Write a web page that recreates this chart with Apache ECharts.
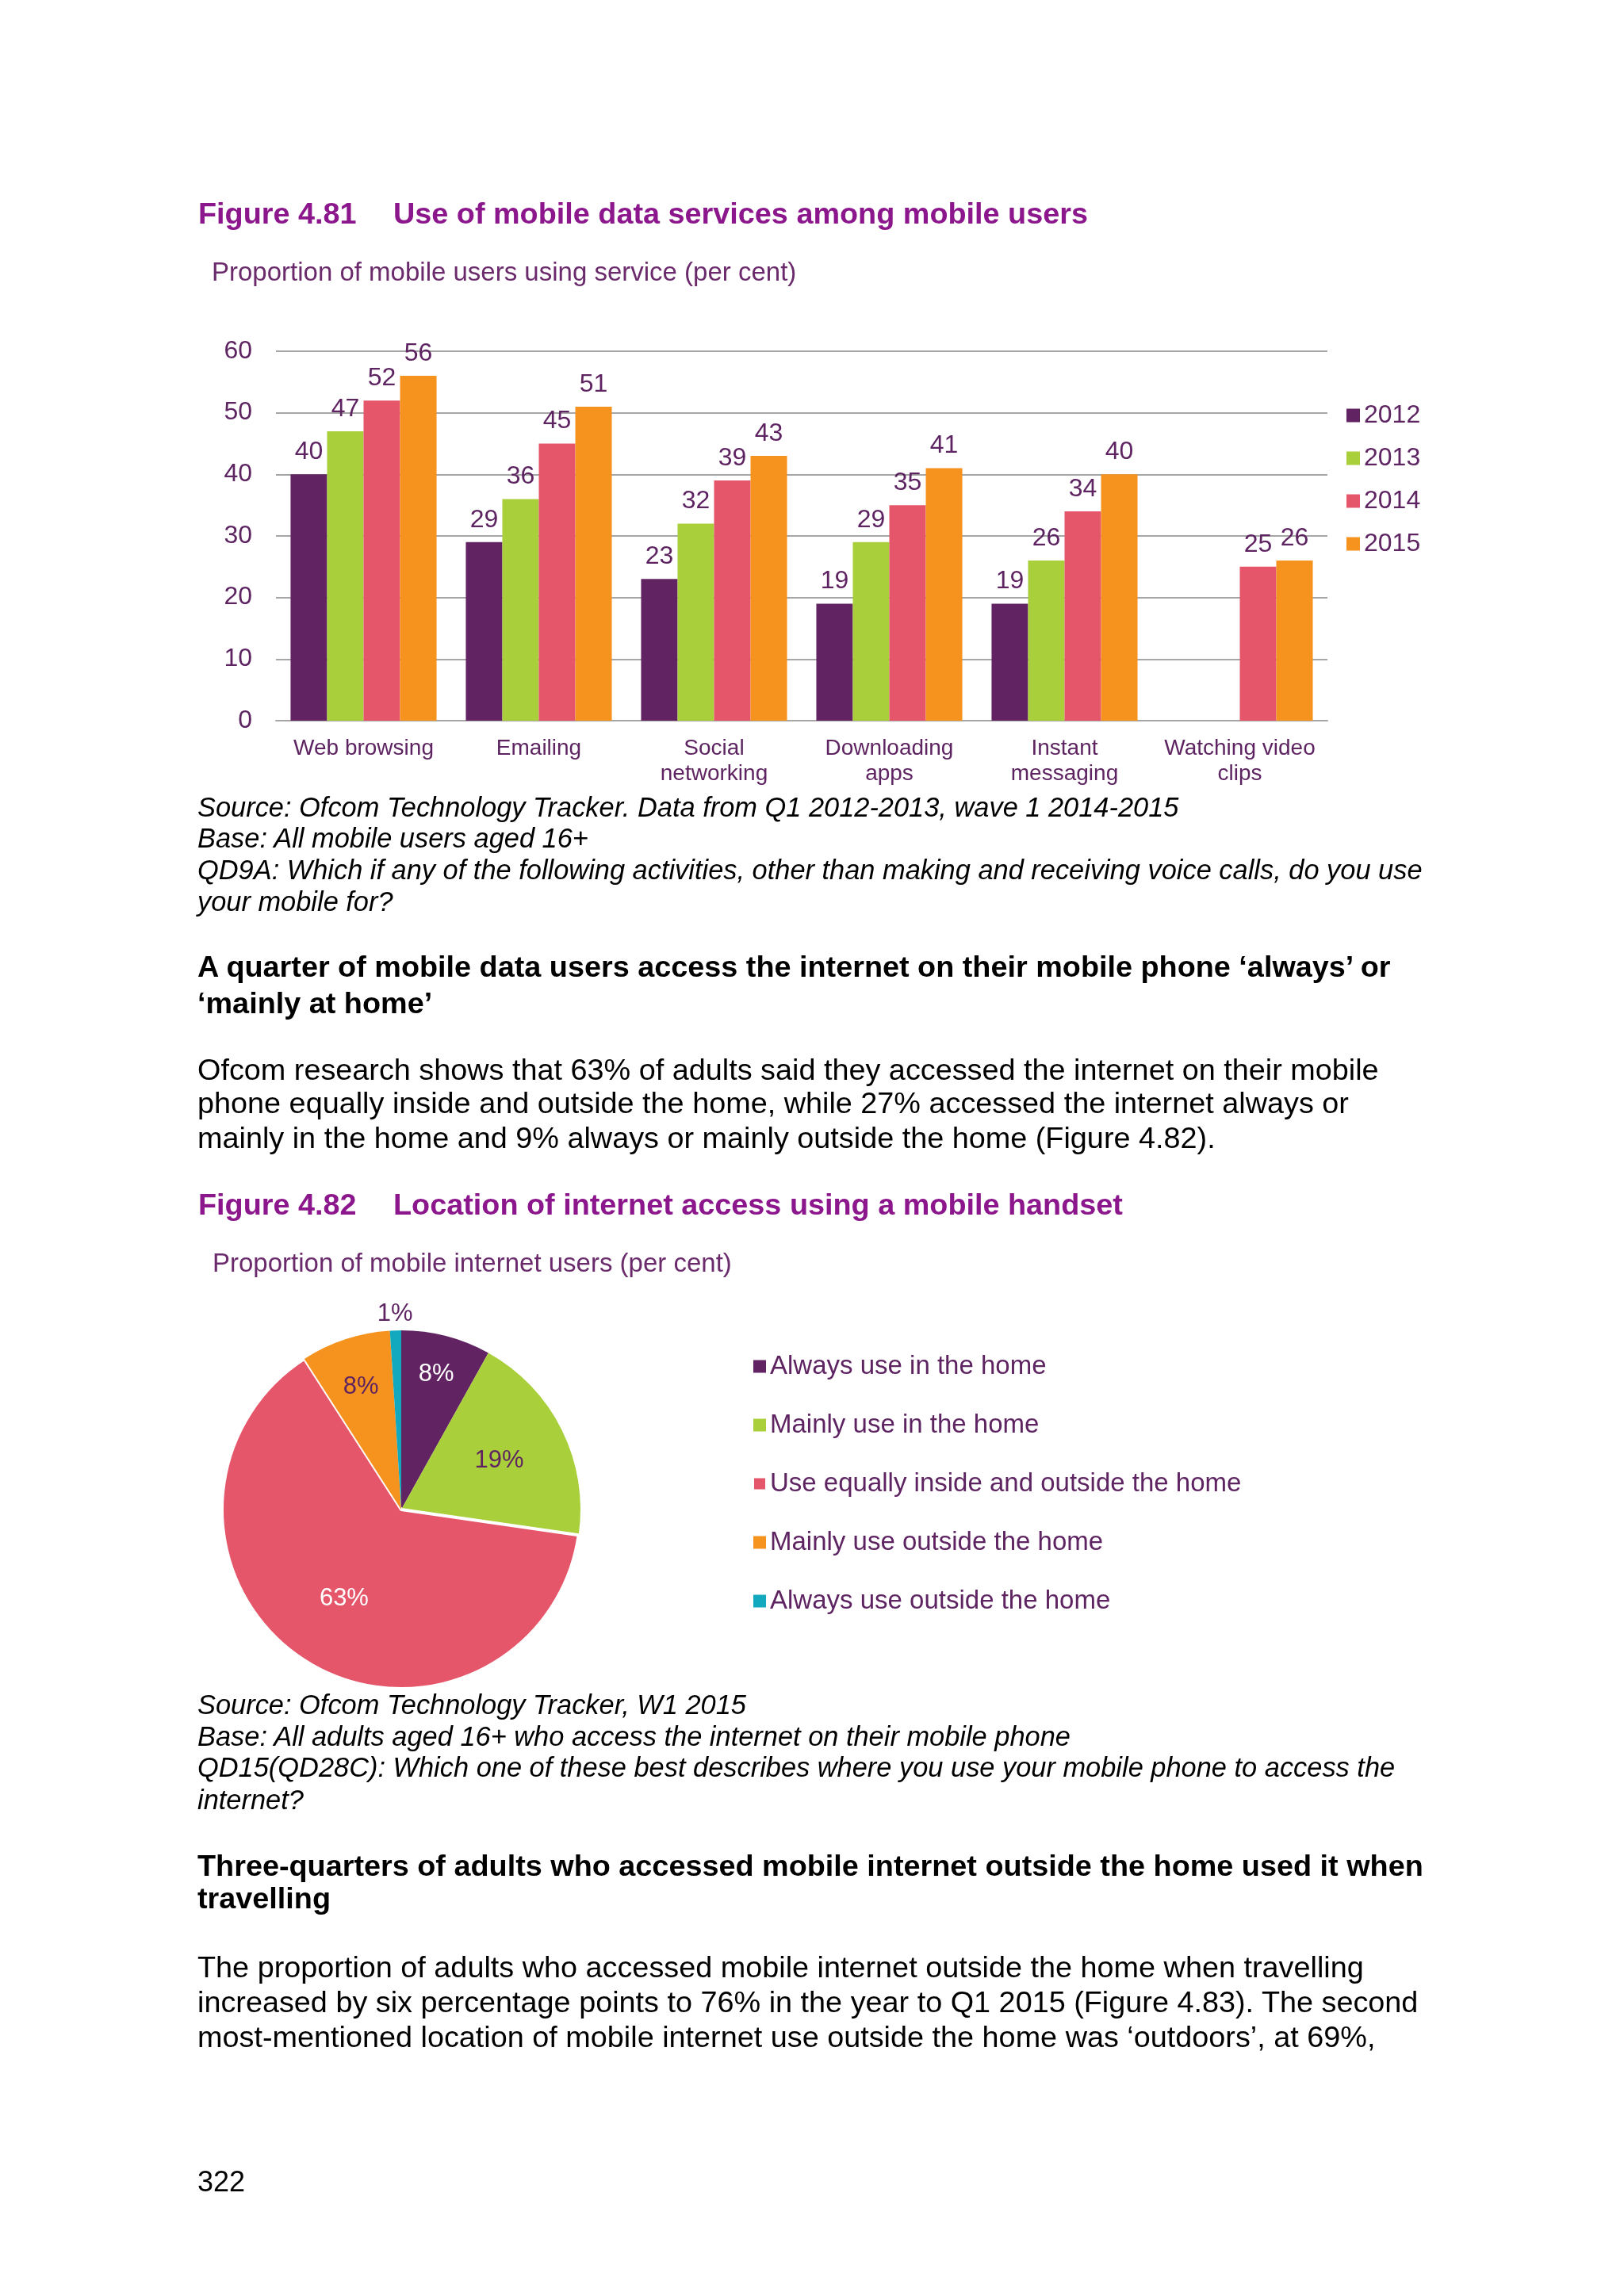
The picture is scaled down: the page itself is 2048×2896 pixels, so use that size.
<!DOCTYPE html>
<html>
<head>
<meta charset="utf-8">
<script src="https://cdn.jsdelivr.net/npm/echarts@6/dist/echarts.min.js"></script>
<style>
html,body{margin:0;padding:0;background:#fff;}
#page{position:relative;width:2048px;height:2896px;overflow:hidden;background:#fff;}
#chart{position:absolute;left:0;top:0;width:2048px;height:2896px;}
.t{position:absolute;white-space:nowrap;font-family:"Liberation Sans",Arial,sans-serif;margin:0;padding:0;}
</style>
</head>
<body>
<div id="page"><div id="chart"></div></div>
<script>
// ---------- data ----------
const categories = ['Web browsing', 'Emailing', 'Social\nnetworking', 'Downloading\napps', 'Instant\nmessaging', 'Watching video\nclips'];
const years = ['2012', '2013', '2014', '2015'];
const values2012 = [40, 29, 23, 19, 19, null];
const values2013 = [47, 36, 32, 29, 26, null];
const values2014 = [52, 45, 39, 35, 34, 25];
const values2015 = [56, 51, 43, 41, 40, 26];
const yMin = 0, yMax = 60, yInterval = 10;

const pieNames = ['Always use in the home', 'Mainly use in the home', 'Use equally inside and outside the home', 'Mainly use outside the home', 'Always use outside the home'];
const pieValues = [8, 19, 63, 8, 1];

// ---------- styles ----------
const FONT = '"Liberation Sans", Arial, sans-serif';
const TITLE = '#8c168c';
const SUB = '#6a2a6b';
const LBL = '#5e2462';
const GRID = '#a6a6a6';
const barColors = ['#622363', '#a9cf3a', '#e6566a', '#f6921e'];
const pieColors = ['#622363', '#a9cf3a', '#e6566a', '#f6921e', '#12a8be'];
const pieLabelColors = ['#ffffff', LBL, '#ffffff', LBL, LBL];
const pieLabelRadius = [0.78, 0.61, 0.59, 0.72, 1.09];
const PIE_C = [506, 1904], PIE_R = 226;

// ---------- page text ----------
const pageText = [
  {t: 'Figure 4.81', x: 250, cy: 269, fs: 37.8, b: 1, c: TITLE},
  {t: 'Use of mobile data services among mobile users', x: 496, cy: 269, fs: 37.8, b: 1, c: TITLE},
  {t: 'Proportion of mobile users using service (per cent)', x: 267, cy: 342, fs: 33, c: SUB},
  {t: 'Source: Ofcom Technology Tracker. Data from Q1 2012-2013, wave 1 2014-2015', x: 249, cy: 1018, fs: 34.4, i: 1},
  {t: 'Base: All mobile users aged 16+', x: 249, cy: 1057, fs: 34.4, i: 1},
  {t: 'QD9A: Which if any of the following activities, other than making and receiving voice calls, do you use', x: 249, cy: 1097, fs: 34.4, i: 1},
  {t: 'your mobile for?', x: 249, cy: 1137, fs: 34.4, i: 1},
  {t: 'A quarter of mobile data users access the internet on their mobile phone \u2018always\u2019 or', x: 249, cy: 1219, fs: 37.8, b: 1},
  {t: '\u2018mainly at home\u2019', x: 249, cy: 1265, fs: 37.8, b: 1},
  {t: 'Ofcom research shows that 63% of adults said they accessed the internet on their mobile', x: 249, cy: 1349, fs: 37.8},
  {t: 'phone equally inside and outside the home, while 27% accessed the internet always or', x: 249, cy: 1391, fs: 37.8},
  {t: 'mainly in the home and 9% always or mainly outside the home (Figure 4.82).', x: 249, cy: 1435, fs: 37.8},
  {t: 'Figure 4.82', x: 250, cy: 1519, fs: 37.8, b: 1, c: TITLE},
  {t: 'Location of internet access using a mobile handset', x: 496, cy: 1519, fs: 37.8, b: 1, c: TITLE},
  {t: 'Proportion of mobile internet users (per cent)', x: 268, cy: 1592, fs: 33, c: SUB},
  {t: 'Source: Ofcom Technology Tracker, W1 2015', x: 249, cy: 2150, fs: 34.4, i: 1},
  {t: 'Base: All adults aged 16+ who access the internet on their mobile phone', x: 249, cy: 2190, fs: 34.4, i: 1},
  {t: 'QD15(QD28C): Which one of these best describes where you use your mobile phone to access the', x: 249, cy: 2229, fs: 34.4, i: 1},
  {t: 'internet?', x: 249, cy: 2270, fs: 34.4, i: 1},
  {t: 'Three-quarters of adults who accessed mobile internet outside the home used it when', x: 249, cy: 2353, fs: 37.8, b: 1},
  {t: 'travelling', x: 249, cy: 2394, fs: 37.8, b: 1},
  {t: 'The proportion of adults who accessed mobile internet outside the home when travelling', x: 249, cy: 2481, fs: 37.8},
  {t: 'increased by six percentage points to 76% in the year to Q1 2015 (Figure 4.83). The second', x: 249, cy: 2525, fs: 37.8},
  {t: 'most-mentioned location of mobile internet use outside the home was \u2018outdoors\u2019, at 69%,', x: 249, cy: 2569, fs: 37.8},
  {t: '322', x: 249, cy: 2752, fs: 36}
];

const page = document.getElementById('page');
pageText.forEach(function (l) {
  const d = document.createElement('div');
  d.className = 't';
  d.textContent = l.t;
  d.style.left = l.x + 'px';
  d.style.top = (l.cy - 0.4885 * l.fs) + 'px';
  d.style.fontSize = l.fs + 'px';
  d.style.lineHeight = l.fs + 'px';
  d.style.fontWeight = l.b ? 'bold' : 'normal';
  d.style.fontStyle = l.i ? 'italic' : 'normal';
  d.style.color = l.c || '#000';
  page.appendChild(d);
});

// ---------- chart ----------
const chart = echarts.init(document.getElementById('chart'), null, {renderer: 'canvas'});
const yearValues = [values2012, values2013, values2014, values2015];

const barSeries = years.map(function (y, i) {
  return {
    name: y,
    type: 'bar',
    data: yearValues[i],
    barGap: '0%',
    barCategoryGap: '16.7%',
    itemStyle: {color: barColors[i]},
    label: {show: true, position: 'top', distance: 12, color: LBL, fontSize: 32, fontFamily: FONT},
    emphasis: {disabled: true}
  };
});

const option = {
  animation: false,
  backgroundColor: 'transparent',
  textStyle: {fontFamily: FONT},
  grid: {left: 348, right: 374, top: 443, bottom: 1987},
  xAxis: {
    type: 'category',
    data: categories,
    axisLine: {show: true, lineStyle: {color: GRID, width: 2}},
    axisTick: {show: false},
    splitLine: {show: false},
    axisLabel: {interval: 0, color: LBL, fontSize: 28, lineHeight: 32, margin: 19, fontFamily: FONT}
  },
  yAxis: {
    type: 'value',
    min: yMin, max: yMax, interval: yInterval,
    axisLine: {show: false},
    axisTick: {show: false},
    splitLine: {show: true, lineStyle: {color: GRID, width: 2}},
    axisLabel: {color: LBL, fontSize: 32, margin: 30, fontFamily: FONT}
  },
  legend: [
    {
      data: years, orient: 'vertical', left: 1693, top: 503,
      itemWidth: 17, itemHeight: 17, itemGap: 22, icon: 'rect', selectedMode: false,
      textStyle: {color: LBL, fontSize: 32, lineHeight: 32, fontFamily: FONT}
    },
    {
      data: pieNames, orient: 'vertical', left: 944, top: 1702,
      itemWidth: 16, itemHeight: 16, itemGap: 41, icon: 'rect', selectedMode: false,
      textStyle: {color: LBL, fontSize: 33, lineHeight: 33, fontFamily: FONT}
    }
  ],
  series: barSeries.concat([{
    type: 'pie',
    center: PIE_C,
    radius: PIE_R,
    startAngle: 90,
    clockwise: true,
    selectedMode: false,
    avoidLabelOverlap: false,
    emphasis: {disabled: true},
    labelLine: {show: false},
    label: {show: true, position: 'inside', formatter: '{c}%', fontSize: 31, fontFamily: FONT},
    data: pieNames.map(function (n, i) {
      const item = {
        name: n,
        value: pieValues[i],
        itemStyle: {color: pieColors[i]},
        label: {color: pieLabelColors[i]}
      };
      if (i === 2) { item.itemStyle.borderColor = '#ffffff'; item.itemStyle.borderWidth = 4; }
      return item;
    }),
    labelLayout: function (p) {
      const r = p.labelRect;
      const lx = r.x + r.width / 2, ly = r.y + r.height / 2;
      let dx = lx - PIE_C[0], dy = ly - PIE_C[1];
      const len = Math.sqrt(dx * dx + dy * dy) || 1;
      dx /= len; dy /= len;
      const f = pieLabelRadius[p.dataIndex] * PIE_R;
      return {x: PIE_C[0] + dx * f, y: PIE_C[1] + dy * f, align: 'center', verticalAlign: 'middle'};
    }
  }])
};
chart.setOption(option);
</script>
</body>
</html>
